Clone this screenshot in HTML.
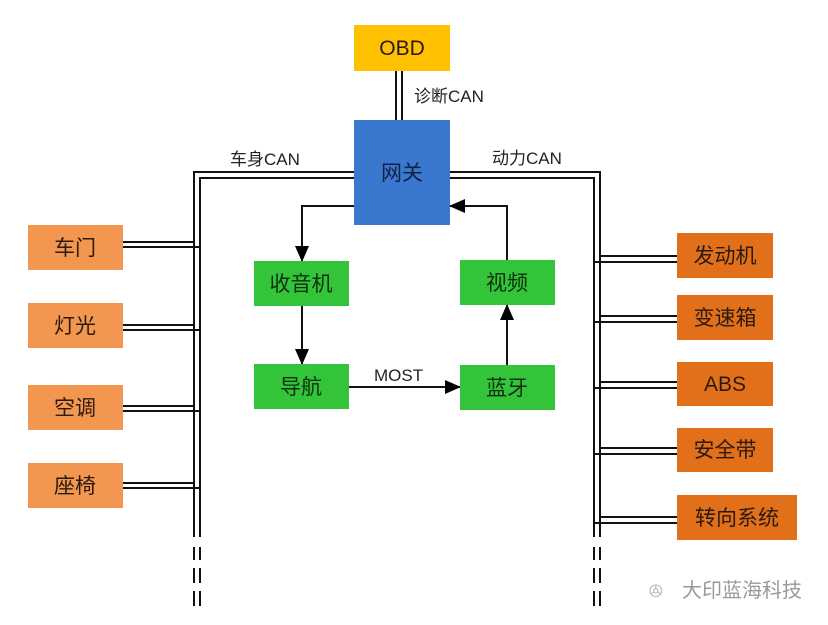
<!DOCTYPE html>
<html><head><meta charset="utf-8"><style>
html,body{margin:0;padding:0;background:#fff;}
svg{display:block;}
text{font-family:"Liberation Sans","Noto Sans CJK SC",sans-serif;}
</style></head><body>
<svg width="828" height="625" viewBox="0 0 828 625" xmlns="http://www.w3.org/2000/svg">
<defs>
<marker id="ah" markerWidth="16" markerHeight="14" refX="15" refY="7" orient="auto" markerUnits="userSpaceOnUse">
<path d="M0,0 L16,7 L0,14 z" fill="#000"/>
</marker>
</defs>
<g stroke="#111" stroke-width="2" fill="none">
<line x1="396" y1="71" x2="396" y2="120"/>
<line x1="402" y1="71" x2="402" y2="120"/>
<polyline points="354,172 194,172 194,537"/>
<polyline points="354,178 200,178 200,537"/>
<polyline points="450,172 600,172 600,537"/>
<polyline points="450,178 594,178 594,537"/>
<g>
<line x1="194" y1="547" x2="194" y2="560"/><line x1="200" y1="547" x2="200" y2="560"/>
<line x1="194" y1="568" x2="194" y2="583"/><line x1="200" y1="568" x2="200" y2="583"/>
<line x1="194" y1="591" x2="194" y2="606"/><line x1="200" y1="591" x2="200" y2="606"/>
<line x1="594" y1="547" x2="594" y2="560"/><line x1="600" y1="547" x2="600" y2="560"/>
<line x1="594" y1="568" x2="594" y2="583"/><line x1="600" y1="568" x2="600" y2="583"/>
<line x1="594" y1="591" x2="594" y2="606"/><line x1="600" y1="591" x2="600" y2="606"/>
</g>
<line x1="123" y1="242" x2="194" y2="242"/><line x1="123" y1="247" x2="200" y2="247"/>
<line x1="123" y1="325" x2="194" y2="325"/><line x1="123" y1="330" x2="200" y2="330"/>
<line x1="123" y1="406" x2="194" y2="406"/><line x1="123" y1="411" x2="200" y2="411"/>
<line x1="123" y1="483" x2="194" y2="483"/><line x1="123" y1="488" x2="200" y2="488"/>
<line x1="600" y1="256" x2="677" y2="256"/><line x1="594" y1="262" x2="677" y2="262"/>
<line x1="600" y1="316" x2="677" y2="316"/><line x1="594" y1="322" x2="677" y2="322"/>
<line x1="600" y1="382" x2="677" y2="382"/><line x1="594" y1="388" x2="677" y2="388"/>
<line x1="600" y1="448" x2="677" y2="448"/><line x1="594" y1="454" x2="677" y2="454"/>
<line x1="600" y1="517" x2="677" y2="517"/><line x1="594" y1="523" x2="677" y2="523"/>
<polyline points="354,206 302,206 302,261" marker-end="url(#ah)"/>
<line x1="302" y1="306" x2="302" y2="364" marker-end="url(#ah)"/>
<line x1="349" y1="387" x2="460" y2="387" marker-end="url(#ah)"/>
<line x1="507" y1="365" x2="507" y2="305" marker-end="url(#ah)"/>
<polyline points="507,260 507,206 450,206" marker-end="url(#ah)"/>
</g>
<rect x="354" y="25" width="96" height="46" fill="#ffc000"/>
<rect x="354" y="120" width="96" height="105" fill="#3a78d0"/>
<g fill="#f29650">
<rect x="28" y="225" width="95" height="45"/>
<rect x="28" y="303" width="95" height="45"/>
<rect x="28" y="385" width="95" height="45"/>
<rect x="28" y="463" width="95" height="45"/>
</g>
<g fill="#e2701a">
<rect x="677" y="233" width="96" height="45"/>
<rect x="677" y="295" width="96" height="45"/>
<rect x="677" y="362" width="96" height="44"/>
<rect x="677" y="428" width="96" height="44"/>
<rect x="677" y="495" width="120" height="45"/>
</g>
<g fill="#33c43a">
<rect x="254" y="261" width="95" height="45"/>
<rect x="460" y="260" width="95" height="45"/>
<rect x="254" y="364" width="95" height="45"/>
<rect x="460" y="365" width="95" height="45"/>
</g>
<g font-size="21" fill="#2a1a10" text-anchor="middle">
<text x="402" y="55">OBD</text>
<text x="402" y="180" fill="#102040">网关</text>
<text x="75" y="255">车门</text>
<text x="75" y="333">灯光</text>
<text x="75" y="415">空调</text>
<text x="75" y="493">座椅</text>
<text x="725" y="263">发动机</text>
<text x="725" y="325">变速箱</text>
<text x="725" y="391">ABS</text>
<text x="725" y="457">安全带</text>
<text x="737" y="525">转向系统</text>
<text x="301" y="291" fill="#10300f">收音机</text>
<text x="507" y="290" fill="#10300f">视频</text>
<text x="301" y="394" fill="#10300f">导航</text>
<text x="507" y="395" fill="#10300f">蓝牙</text>
</g>
<g font-size="17" fill="#222">
<text x="414" y="102">诊断CAN</text>
<text x="230" y="165">车身CAN</text>
<text x="492" y="164">动力CAN</text>
<text x="374" y="381">MOST</text>
</g>
<text x="682" y="597" font-size="20" fill="#999">大印蓝海科技</text>
<text x="648" y="598" font-size="20" fill="#bbb">ꔮ</text>
</svg>
</body></html>
